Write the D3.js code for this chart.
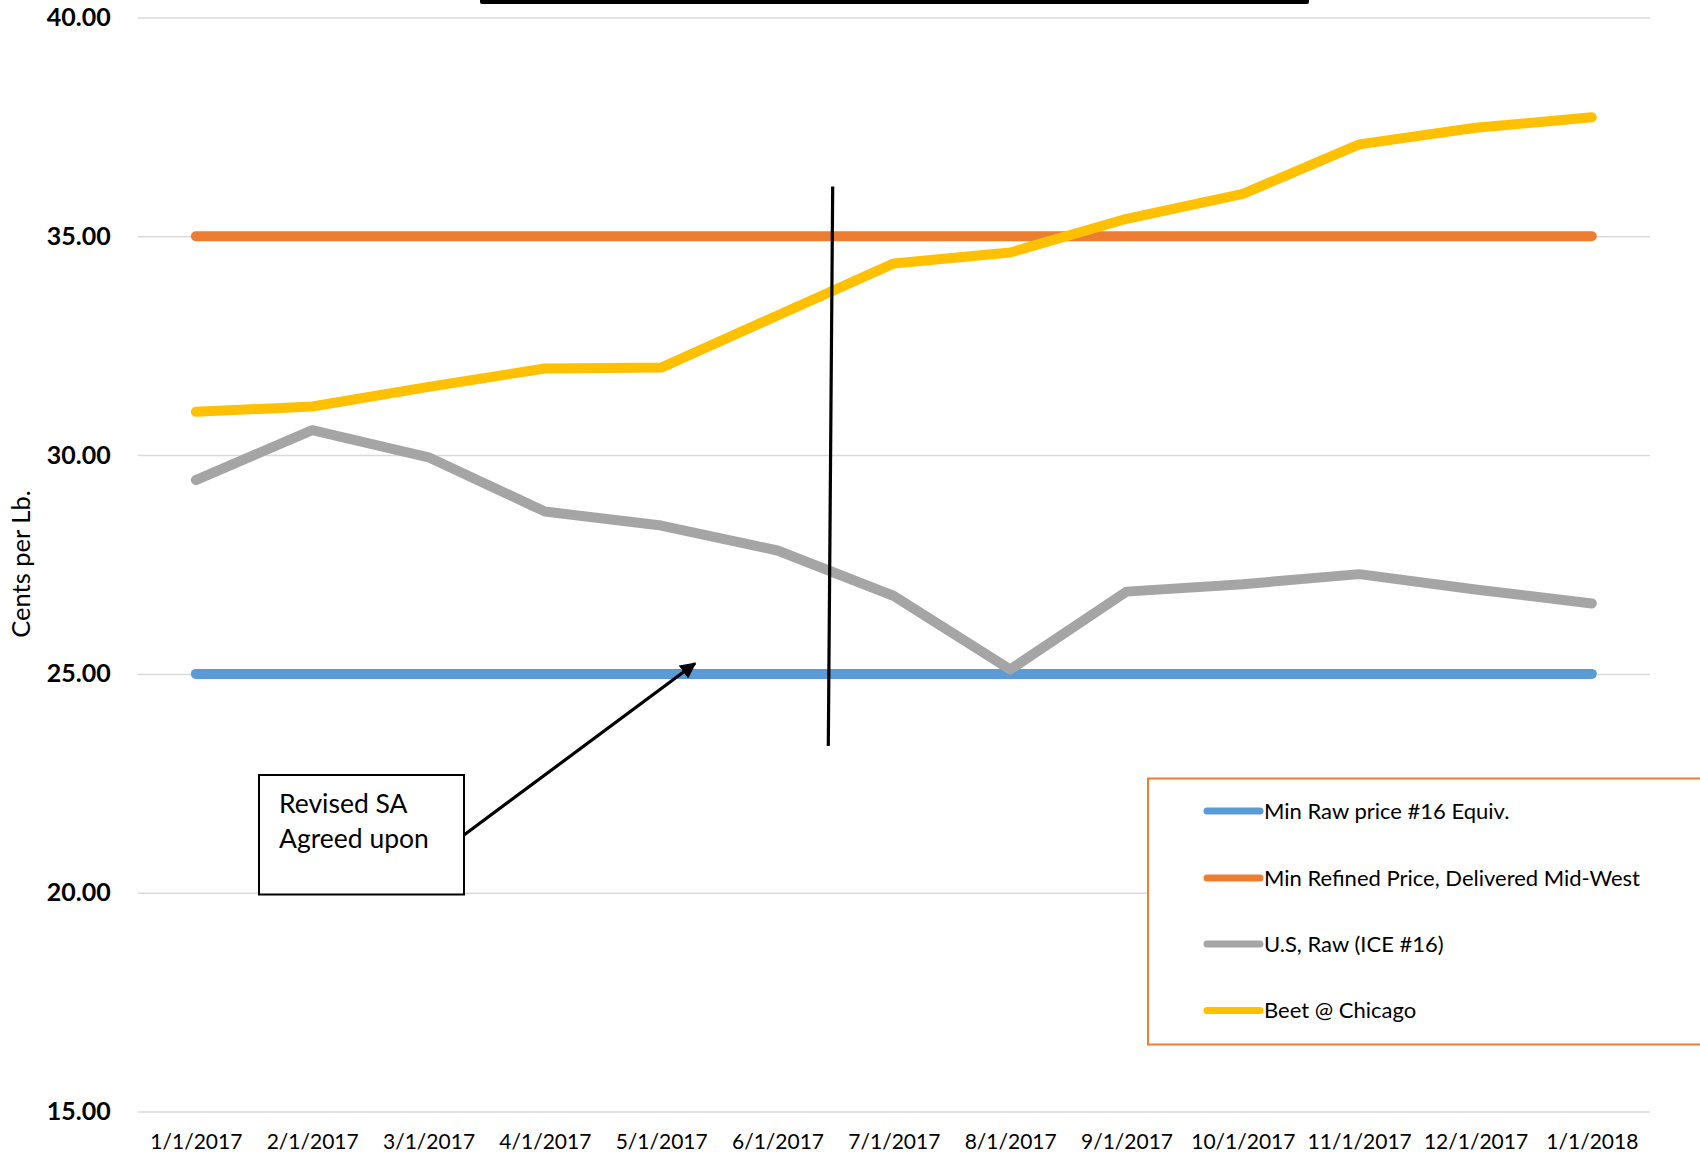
<!DOCTYPE html>
<html>
<head>
<meta charset="utf-8">
<script src="https://cdn.jsdelivr.net/npm/d3@7"></script>
<style>
  html, body { margin: 0; padding: 0; background: #fff; }
  svg { display: block; }
</style>
</head>
<body>
<svg id="chart" width="1700" height="1157"></svg>
<script>
const dates = ["1/1/2017","2/1/2017","3/1/2017","4/1/2017","5/1/2017","6/1/2017","7/1/2017","8/1/2017","9/1/2017","10/1/2017","11/1/2017","12/1/2017","1/1/2018"];
const minRaw     = [25,25,25,25,25,25,25,25,25,25,25,25,25];
const minRefined = [35,35,35,35,35,35,35,35,35,35,35,35,35];
const usRaw      = [29.43,30.57,29.95,28.71,28.39,27.82,26.78,25.10,26.88,27.05,27.28,26.93,26.61];
const beet       = [30.99,31.11,31.56,31.98,32.00,33.19,34.38,34.63,35.40,35.97,37.10,37.48,37.72];
const yTicks = [15,20,25,30,35,40];
const seriesNames = ["Min Raw price #16 Equiv.","Min Refined Price, Delivered Mid-West","U.S, Raw (ICE #16)","Beet @ Chicago"];
const seriesColors = ["#5B9BD5","#ED7D31","#A5A5A5","#FFC000"];
const seriesValues = [minRaw, minRefined, usRaw, beet];

(function () {
const svg = d3.select("#chart");
const pLeft = 137.7, pRight = 1650, pTop = 17.5, pBottom = 1111.5;
const FONT = "Lato, 'Open Sans', sans-serif";

const x = d3.scalePoint().domain(dates).range([pLeft, pRight]).padding(0.5);
const y = d3.scaleLinear().domain([15, 40]).range([pBottom, pTop]);

// y grid + labels
const yAxis = svg.append("g")
  .attr("transform", `translate(${pLeft},0)`)
  .call(d3.axisLeft(y).tickValues(yTicks).tickSize(-(pRight - pLeft)).tickPadding(27).tickFormat(d => d.toFixed(2)));
yAxis.select(".domain").remove();
yAxis.selectAll(".tick line").attr("stroke", "#D9D9D9").attr("stroke-width", 1.5);
yAxis.selectAll(".tick text")
  .attr("font-family", FONT).attr("font-weight", "bold").attr("font-size", 25).attr("fill", "#000");

// x labels
const xAxis = svg.append("g")
  .attr("transform", `translate(0,${pBottom})`)
  .call(d3.axisBottom(x).tickSize(0).tickPadding(23));
xAxis.select(".domain").remove();
xAxis.selectAll(".tick text")
  .attr("font-family", FONT).attr("font-size", 21).attr("fill", "#000");

// y title
svg.append("text")
  .attr("transform", "translate(30,564) rotate(-90)")
  .attr("text-anchor", "middle")
  .attr("font-family", FONT).attr("font-size", 25.5).attr("fill", "#000")
  .text("Cents per Lb.");

// series lines
const line = d3.line().x((d, i) => x(dates[i])).y(d => y(d));
seriesValues.forEach((vals, k) => {
  svg.append("path")
    .datum(vals)
    .attr("d", line)
    .attr("fill", "none")
    .attr("stroke", seriesColors[k])
    .attr("stroke-width", 10)
    .attr("stroke-linecap", "round")
    .attr("stroke-linejoin", "round");
});

// top black bar (bottom edge of a cut-off box)
svg.append("rect")
  .attr("x", 480).attr("y", -10).attr("width", 829).attr("height", 14)
  .attr("rx", 2).attr("fill", "#000");

// vertical black line
svg.append("line")
  .attr("x1", 832.7).attr("y1", 186.5).attr("x2", 828.3).attr("y2", 746)
  .attr("stroke", "#000").attr("stroke-width", 3.2);

// arrow marker
svg.append("defs").append("marker")
  .attr("id", "arrow").attr("viewBox", "0 0 10 10")
  .attr("refX", 9).attr("refY", 5)
  .attr("markerWidth", 5).attr("markerHeight", 5)
  .attr("orient", "auto")
  .append("path").attr("d", "M0,0 L10,5 L0,10 z").attr("fill", "#000");

svg.append("line")
  .attr("x1", 464).attr("y1", 835).attr("x2", 695).attr("y2", 663.5)
  .attr("stroke", "#000").attr("stroke-width", 3.2)
  .attr("marker-end", "url(#arrow)");

// annotation box
svg.append("rect")
  .attr("x", 259).attr("y", 775).attr("width", 205).attr("height", 119.5)
  .attr("fill", "#fff").attr("stroke", "#000").attr("stroke-width", 2);
const ann = svg.append("text")
  .attr("font-family", FONT).attr("font-size", 26.5).attr("fill", "#000");
ann.append("tspan").attr("x", 279).attr("y", 813).text("Revised SA");
ann.append("tspan").attr("x", 279).attr("y", 848).text("Agreed upon");

// legend
svg.append("rect")
  .attr("x", 1148).attr("y", 778.5).attr("width", 600).attr("height", 266)
  .attr("fill", "#fff").attr("stroke", "#ED7D31").attr("stroke-width", 2);
const legY = [811, 878, 944, 1010.5];
seriesNames.forEach((name, k) => {
  svg.append("line")
    .attr("x1", 1207).attr("x2", 1260).attr("y1", legY[k]).attr("y2", legY[k])
    .attr("stroke", seriesColors[k]).attr("stroke-width", 7).attr("stroke-linecap", "round");
  svg.append("text")
    .attr("x", 1264).attr("y", legY[k]).attr("dy", "0.35em")
    .attr("font-family", FONT).attr("font-size", 22).attr("fill", "#000")
    .text(name);
});
})();
</script>
</body>
</html>
